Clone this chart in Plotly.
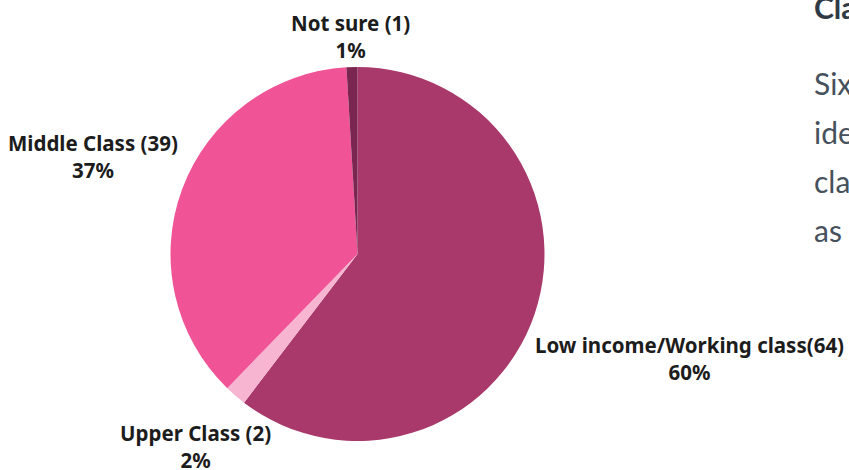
import plotly.graph_objects as go

# Survey responses: self-identified social class
categories = ["Low income/Working class", "Upper Class", "Middle Class", "Not sure"]
counts = [64, 2, 39, 1]
label_names = ["Low income/Working class(64)", "Upper Class (2)", "Middle Class (39)", "Not sure (1)"]
colors = ["#A8396A", "#F7B5D2", "#F05496", "#7A2650"]

# Side-panel text lines (partially visible column to the right)
side_heading = "Cla"
side_lines = ["Six", "ide", "cla", "as"]

W, H = 849, 470
total = sum(counts)
pcts = [round(100 * c / total) for c in counts]

fig = go.Figure(
    go.Pie(
        labels=categories,
        values=counts,
        sort=False,
        direction="clockwise",
        rotation=0,
        marker=dict(colors=colors, line=dict(width=0)),
        textinfo="none",
        hoverinfo="label+value+percent",
        domain=dict(x=[(357.5 - 187) / W, (357.5 + 187) / W],
                    y=[(H - 254 - 187) / H, (H - 254 + 187) / H]),
        showlegend=False,
    )
)

# Outside labels: name/count on the first line, share on the second
label_pos = [(689, 358), (195, 446), (93, 156), (350, 36)]
annotations = []
for name, p, (px, py) in zip(label_names, pcts, label_pos):
    annotations.append(dict(
        text=f"{name}<br>{p}%",
        x=px / W, y=1 - py / H, xref="paper", yref="paper",
        xanchor="center", yanchor="middle", showarrow=False,
        font=dict(family="Noto Sans", size=20.5, color="#1c1c1c", weight="bold"),
        align="center",
    ))

annotations.append(dict(
    text=f"<b>{side_heading}</b>", x=812 / W, y=1 - 7 / H,
    xref="paper", yref="paper", xanchor="left", yanchor="middle",
    showarrow=False, font=dict(family="Lato", size=30, color="#2f3a45"),
))
for i, line in enumerate(side_lines):
    annotations.append(dict(
        text=line, x=812 / W, y=1 - (83 + 49 * i) / H,
        xref="paper", yref="paper", xanchor="left", yanchor="middle",
        showarrow=False, font=dict(family="Lato", size=30, color="#46515c"),
    ))

fig.update_layout(
    width=W, height=H,
    margin=dict(l=0, r=0, t=0, b=0),
    paper_bgcolor="white", plot_bgcolor="white",
    annotations=annotations,
)

fig.write_html("out.html")
